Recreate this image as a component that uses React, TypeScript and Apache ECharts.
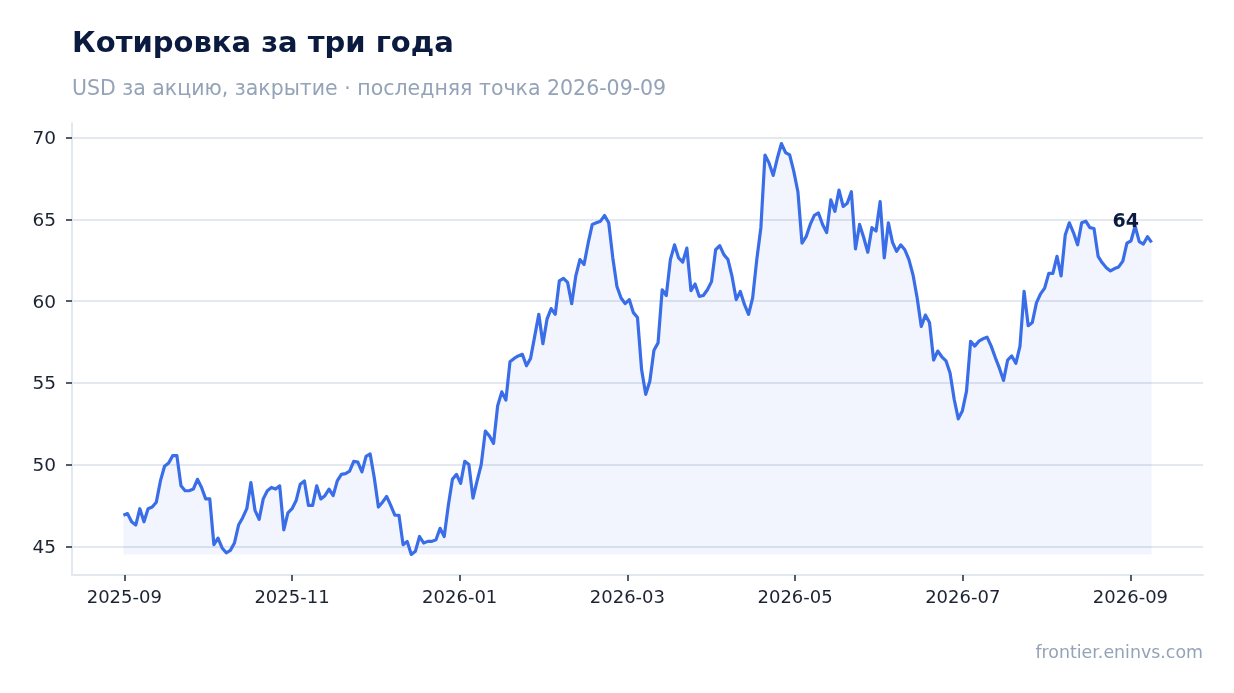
import React, { useEffect, useRef } from 'react';
import * as echarts from 'echarts';

const TITLE = 'Котировка за три года';
const SUBTITLE = 'USD за акцию, закрытие · последняя точка 2026-09-09';
const SOURCE = 'frontier.eninvs.com';

// first and last trading date, points are spread evenly between them
const firstDate = '2025-09-01';
const lastDate = '2026-09-09';

// closing prices, USD
const prices: number[] = [
  46.9, 47.0, 46.5, 46.3, 47.3, 46.5, 47.3, 47.4, 47.7, 49.0,
  49.9, 50.1, 50.55, 50.55, 48.7, 48.4, 48.4, 48.5, 49.1, 48.6,
  47.9, 47.9, 45.1, 45.5, 44.9, 44.6, 44.75, 45.2, 46.3, 46.75,
  47.3, 48.9, 47.2, 46.65, 47.9, 48.4, 48.6, 48.5, 48.7, 46.0,
  47.05, 47.3, 47.8, 48.8,
  49.0, 47.5, 47.5, 48.7, 47.9, 48.1, 48.5, 48.1, 49.0, 49.4,
  49.45, 49.6, 50.2, 50.15, 49.55, 50.5, 50.65, 49.2, 47.4, 47.7,
  48.05, 47.5, 46.9, 46.9, 45.1, 45.3, 44.5, 44.7, 45.6, 45.2,
  45.3, 45.3, 45.4, 46.1, 45.6, 47.5, 49.1, 49.4, 48.85, 50.2,
  50.0, 47.95, 49.0,
  50.0, 52.05, 51.75, 51.3, 53.6, 54.45, 53.95, 56.3, 56.5, 56.65,
  56.75, 56.05, 56.5, 57.85, 59.2, 57.4, 58.9, 59.55, 59.2, 61.25,
  61.4, 61.15, 59.85, 61.55, 62.55, 62.25, 63.55, 64.7, 64.8, 64.9,
  65.25, 64.8, 62.65, 60.9, 60.2, 59.85, 60.1,
  59.3, 59.0, 55.8, 54.3, 55.1, 57.0, 57.45, 60.7, 60.35, 62.55,
  63.45, 62.65, 62.4, 63.25, 60.65, 61.05, 60.3, 60.35, 60.7, 61.2,
  63.15, 63.4, 62.85, 62.55, 61.5, 60.1, 60.6, 59.8, 59.2, 60.2,
  62.55, 64.5, 68.95, 68.45, 67.7, 68.75, 69.65, 69.1, 68.95, 67.95,
  66.7,
  63.55, 63.95, 64.7, 65.25, 65.4, 64.7, 64.2, 66.2, 65.5, 66.8,
  65.8, 66.0, 66.7, 63.2, 64.7, 63.9, 63.0, 64.5, 64.3, 66.1,
  62.65, 64.8, 63.6, 63.05, 63.45, 63.15, 62.55, 61.6, 60.2, 58.45,
  59.15, 58.7, 56.4, 56.95, 56.6, 56.35,
  55.6, 54.0, 52.8, 53.3, 54.5, 57.55, 57.25, 57.55, 57.7, 57.8,
  57.25, 56.55, 55.9, 55.15, 56.4, 56.65, 56.2, 57.25, 60.6, 58.5,
  58.7, 59.9, 60.45, 60.8, 61.7, 61.7, 62.75, 61.55, 64.05, 64.8,
  64.2, 63.45, 64.8, 64.9, 64.5, 64.45, 62.75, 62.35, 62.05, 61.85,
  62.0, 62.1, 62.45, 63.55, 63.7, 64.6, 63.65, 63.5, 63.95, 63.6,
];

const xTickLabels = ['2025-09', '2025-11', '2026-01', '2026-03', '2026-05', '2026-07', '2026-09'];
const yTickValues = [45, 50, 55, 60, 65, 70];

const toTs = (s: string) => {
  const [y, m, d] = s.split('-').map(Number);
  return Date.UTC(y, m - 1, d);
};

// timestamp -> fractional year (the axis runs in years)
const toYear = (ts: number) => {
  const y = new Date(ts).getUTCFullYear();
  const a = Date.UTC(y, 0, 1);
  const b = Date.UTC(y + 1, 0, 1);
  return y + (ts - a) / (b - a);
};

// 'YYYY-MM' -> fractional year of that month
const monthToYear = (s: string) => {
  const [y, m] = s.split('-').map(Number);
  return y + (m - 1) / 12;
};

const App: React.FC = () => {
  const chartRef = useRef<HTMLDivElement>(null);

  useEffect(() => {
    if (!chartRef.current) return;
    const chart = echarts.init(chartRef.current, null, { renderer: 'svg' });

    const start = toTs(firstDate);
    const end = toTs(lastDate);
    const step = (end - start) / (prices.length - 1);
    const data = prices.map((v, i) => [toYear(start + i * step), v]);
    const x0 = toYear(start);
    const x1 = toYear(end);
    const lo = Math.min(...prices);
    const hi = Math.max(...prices);
    const xPad = (x1 - x0) * 0.05;
    const yPad = (hi - lo) * 0.05;
    const xTicks = xTickLabels.map(monthToYear);

    const font = 'DejaVu Sans';
    const spine = { color: '#e2e7f0', width: 2 };
    const tick = { color: '#2b3445', width: 1.6 };

    const options: echarts.EChartsOption = {
      animation: false,
      textStyle: { fontFamily: font },
      grid: { left: 72, right: 31, top: 123, bottom: 118, containLabel: false },
      graphic: [
        {
          type: 'text', left: 72, top: 27,
          style: { text: TITLE, fontSize: 29, fontWeight: 'bold', fill: '#0b1b3f', fontFamily: font },
        },
        {
          type: 'text', left: 72, top: 77,
          style: { text: SUBTITLE, fontSize: 20.5, fill: '#94a3b8', fontFamily: font },
        },
        {
          type: 'text', right: 31, top: 643,
          style: { text: SOURCE, fontSize: 17.4, fill: '#94a3b8', fontFamily: font },
        },
      ],
      xAxis: {
        type: 'value',
        min: x0 - xPad,
        max: x1 + xPad,
        axisLine: { show: true, onZero: false, lineStyle: spine },
        axisTick: { show: true, length: 6, lineStyle: tick, customValues: xTicks } as any,
        axisLabel: {
          customValues: xTicks,
          formatter: (v: number) => {
            const i = xTicks.findIndex((t) => Math.abs(t - v) < 1e-6);
            return i >= 0 ? xTickLabels[i] : '';
          },
          fontSize: 18,
          color: '#1c2433',
          margin: 12,
          fontFamily: font,
        } as any,
        splitLine: { show: false },
      },
      yAxis: {
        type: 'value',
        min: lo - yPad,
        max: hi + yPad,
        axisLine: { show: true, lineStyle: spine },
        axisTick: { show: true, length: 6, lineStyle: tick, customValues: yTickValues } as any,
        axisLabel: { customValues: yTickValues, fontSize: 18.5, color: '#1c2433', margin: 16, fontFamily: font } as any,
        splitLine: { show: true, lineStyle: { color: '#e3e8f1', width: 2 } },
      },
      series: [
        {
          type: 'line',
          data,
          symbol: 'none',
          showSymbol: false,
          lineStyle: { color: '#3a6ee8', width: 3.2, join: 'round' } as any,
          areaStyle: { color: 'rgba(58,110,232,0.095)', origin: lo } as any,
          endLabel: {
            show: true,
            formatter: (p: any) => String(Math.round(p.value[1])),
            offset: [-47, -22],
            fontSize: 19,
            fontWeight: 'bold',
            color: '#0b1b3f',
            fontFamily: font,
          },
        },
      ],
    };

    chart.setOption(options);
    return () => {
      chart.dispose();
    };
  }, []);

  return <div ref={chartRef} style={{ position: 'fixed', left: 0, top: 0, width: '100vw', height: '100vh' }} />;
};

export default App;
